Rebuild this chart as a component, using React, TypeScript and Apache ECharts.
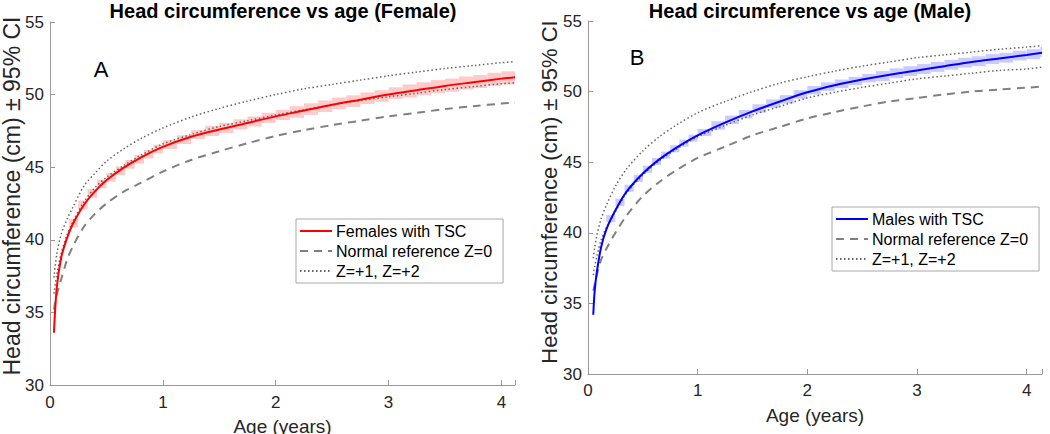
import React, { useEffect, useRef } from "react";
import * as echarts from "echarts";

// ---------- Female panel (A) ----------
const femaleAges = [0.035, 0.06, 0.1, 0.15, 0.2, 0.3, 0.4, 0.5, 0.65, 0.8, 1.0, 1.25, 1.5, 1.75, 2.0, 2.25, 2.5, 2.75, 3.0, 3.25, 3.5, 3.75, 4.0, 4.12];
const femaleTSC = [33.6, 36.7, 38.8, 40.1, 41.05, 42.4, 43.35, 44.1, 44.95, 45.65, 46.4, 47.1, 47.6, 48.05, 48.5, 48.9, 49.3, 49.65, 50.0, 50.3, 50.6, 50.85, 51.1, 51.2];
const femaleZ0 = [35.2, 36.2, 37.3, 38.6, 39.5, 40.9, 41.8, 42.5, 43.3, 43.9, 44.7, 45.5, 46.1, 46.65, 47.15, 47.55, 47.9, 48.2, 48.5, 48.75, 49.0, 49.2, 49.38, 49.44];
const femaleZ1 = [36.3, 37.6, 39.1, 40.3, 41.2, 42.6, 43.6, 44.3, 45.1, 45.8, 46.6, 47.25, 47.8, 48.2, 48.6, 48.95, 49.3, 49.6, 49.85, 50.1, 50.35, 50.55, 50.75, 50.8];
const femaleZ2 = [37.4, 39.0, 40.4, 41.4, 42.2, 43.7, 44.6, 45.4, 46.25, 46.95, 47.7, 48.45, 49.05, 49.55, 50.0, 50.4, 50.7, 51.0, 51.3, 51.55, 51.8, 52.0, 52.2, 52.27];
const femaleBandEdges = [0.167, 0.25, 0.333, 0.417, 0.5, 0.583, 0.667, 0.75, 0.833, 0.917, 1.0, 1.125, 1.25, 1.375, 1.5, 1.625, 1.75, 1.875, 2.0, 2.125, 2.25, 2.375, 2.5, 2.625, 2.75, 2.875, 3.0, 3.125, 3.25, 3.375, 3.5, 3.625, 3.75, 3.875, 4.0, 4.125];
const femaleBandLow = [40.85, 42.1, 42.9, 43.55, 44.0, 44.45, 44.9, 45.25, 45.6, 45.95, 46.25, 46.6, 46.95, 47.15, 47.35, 47.6, 47.8, 48.05, 48.25, 48.4, 48.6, 48.8, 49.0, 49.15, 49.35, 49.5, 49.7, 49.8, 49.95, 50.1, 50.2, 50.35, 50.45, 50.6, 50.7];
const femaleBandHigh = [41.45, 42.7, 43.5, 44.15, 44.6, 45.05, 45.5, 45.85, 46.2, 46.55, 46.85, 47.2, 47.55, 47.85, 48.05, 48.3, 48.5, 48.75, 48.95, 49.2, 49.4, 49.6, 49.8, 49.95, 50.15, 50.3, 50.5, 50.7, 50.85, 51.0, 51.1, 51.25, 51.35, 51.5, 51.6];

// ---------- Male panel (B) ----------
const maleAges = [0.048, 0.06, 0.08, 0.12, 0.17, 0.25, 0.35, 0.5, 0.65, 0.8, 1.0, 1.25, 1.5, 1.75, 2.0, 2.25, 2.5, 2.75, 3.0, 3.25, 3.5, 3.75, 4.0, 4.14];
const maleTSC = [34.2, 35.8, 37.2, 39.0, 40.3, 41.6, 42.9, 44.2, 45.2, 46.0, 46.9, 47.8, 48.6, 49.3, 49.95, 50.45, 50.85, 51.2, 51.5, 51.8, 52.1, 52.35, 52.6, 52.75];
const maleZ0 = [35.9, 36.3, 37.0, 38.1, 38.9, 40.0, 41.2, 42.6, 43.6, 44.4, 45.3, 46.1, 46.9, 47.5, 48.1, 48.55, 48.95, 49.3, 49.55, 49.8, 50.0, 50.15, 50.28, 50.35];
const maleZ1 = [37.0, 37.6, 38.3, 39.5, 40.4, 41.5, 42.8, 44.1, 45.1, 45.9, 46.8, 47.6, 48.35, 48.95, 49.55, 49.95, 50.3, 50.6, 50.9, 51.1, 51.3, 51.5, 51.6, 51.73];
const maleZ2 = [38.2, 38.9, 39.8, 41.0, 42.0, 43.3, 44.5, 45.8, 46.8, 47.6, 48.5, 49.3, 50.0, 50.6, 51.05, 51.45, 51.8, 52.1, 52.4, 52.6, 52.8, 53.0, 53.15, 53.25];
const maleBandEdges = [0.167, 0.25, 0.333, 0.417, 0.5, 0.583, 0.667, 0.75, 0.833, 0.917, 1.0, 1.125, 1.25, 1.375, 1.5, 1.625, 1.75, 1.875, 2.0, 2.125, 2.25, 2.375, 2.5, 2.625, 2.75, 2.875, 3.0, 3.125, 3.25, 3.375, 3.5, 3.625, 3.75, 3.875, 4.0, 4.125, 4.25];
const maleBandLow = [40.75, 41.9, 42.9, 43.6, 44.25, 44.8, 45.25, 45.7, 46.1, 46.45, 46.85, 47.3, 47.7, 48.1, 48.5, 48.85, 49.15, 49.5, 49.8, 50.05, 50.25, 50.45, 50.65, 50.75, 50.95, 51.1, 51.25, 51.4, 51.55, 51.7, 51.8, 51.95, 52.05, 52.2, 52.3, 52.45];
const maleBandHigh = [41.25, 42.4, 43.4, 44.1, 44.75, 45.3, 45.75, 46.2, 46.6, 46.95, 47.35, 47.9, 48.3, 48.7, 49.1, 49.45, 49.75, 50.1, 50.4, 50.65, 50.85, 51.05, 51.25, 51.45, 51.65, 51.8, 51.95, 52.1, 52.25, 52.4, 52.5, 52.65, 52.75, 52.9, 53.0, 53.15];

const xTicks = ["0", "1", "2", "3", "4"];
const FONT = "'Liberation Sans', Arial, Helvetica, sans-serif";
const Y_NAME = "Head circumference (cm) \u00b1 95% CI";

function pairs(xs: number[], ys: number[]) {
  return xs.map((x, i) => [x, ys[i]]);
}
function bandData(edges: number[], lo: number[], hi: number[]) {
  return lo.map((l, i) => [edges[i], edges[i + 1], l, hi[i]]);
}

function bandSeries(idx: number, data: number[][], color: string) {
  return {
    type: "custom",
    xAxisIndex: idx,
    yAxisIndex: idx,
    z: 1,
    silent: true,
    encode: { x: [0, 1], y: [2, 3] },
    data,
    renderItem: (params: any, api: any) => {
      const p0 = api.coord([api.value(0), api.value(3)]);
      const p1 = api.coord([api.value(1), api.value(2)]);
      const cs = params.coordSys;
      const shape = echarts.graphic.clipRectByRect(
        { x: p0[0], y: p0[1], width: p1[0] - p0[0], height: p1[1] - p0[1] },
        { x: cs.x, y: cs.y, width: cs.width, height: cs.height }
      );
      if (!shape) return null;
      return { type: "rect", shape, style: { fill: color } };
    },
  };
}

function lineSeries(idx: number, name: string, data: number[][], color: string, width: number, type: any, z: number) {
  return {
    type: "line",
    name,
    xAxisIndex: idx,
    yAxisIndex: idx,
    data,
    symbol: "none",
    smooth: 0.3,
    z,
    lineStyle: { color, width, type, cap: "butt" },
    itemStyle: { color },
  };
}

function xAxis(idx: number, max: number, nameGap: number, margin: number) {
  return {
    type: "value",
    gridIndex: idx,
    min: 0,
    max,
    interval: 1,
    name: "Age (years)",
    nameLocation: "middle",
    nameGap,
    nameTextStyle: { fontSize: 19, color: "#262626", fontFamily: FONT },
    axisLine: { show: true, lineStyle: { color: "#9a9a9a", width: 1 } },
    axisTick: { show: true, inside: true, length: 5, lineStyle: { color: "#9a9a9a" } },
    splitLine: { show: false },
    axisLabel: {
      fontSize: 17,
      color: "#262626",
      fontFamily: FONT,
      margin,
      formatter: (v: number) => (xTicks.includes(String(v)) ? String(v) : ""),
    },
  };
}

function yAxis(idx: number) {
  return {
    type: "value",
    gridIndex: idx,
    min: 30,
    max: 55,
    interval: 5,
    axisLine: { show: true, lineStyle: { color: "#9a9a9a", width: 1 } },
    axisTick: { show: true, inside: true, length: 5, lineStyle: { color: "#9a9a9a" } },
    splitLine: { show: false },
    axisLabel: { fontSize: 17, color: "#262626", fontFamily: FONT, margin: 6 },
  };
}

function legend(names: string[], left: number, top: number) {
  return {
    data: names,
    orient: "vertical",
    left,
    top,
    itemWidth: 32,
    itemHeight: 14,
    itemGap: 4,
    padding: [4, 11, 4, 3],
    borderColor: "#a8a8a8",
    borderWidth: 1,
    backgroundColor: "#ffffff",
    selectedMode: false,
    itemStyle: { opacity: 0 },
    textStyle: { fontSize: 16, color: "#000", fontFamily: FONT, padding: [0, 0, 0, -1] },
  };
}

function text(t: string, x: number, y: number, font: string, fill = "#000", rotation = 0) {
  return {
    type: "text",
    x,
    y,
    rotation,
    style: { text: t, x: 0, y: 0, textAlign: "center", textVerticalAlign: "middle", font, fill },
  };
}

export default function App() {
  const ref = useRef<HTMLDivElement>(null);
  useEffect(() => {
    if (!ref.current) return;
    const chart = echarts.init(ref.current, null, { renderer: "svg" });
    const dotted = [1.5, 2.5];
    const dashed = [8, 6];
    chart.setOption({
      animation: false,
      backgroundColor: "#ffffff",
      grid: [
        { left: 50, top: 22, width: 465, height: 363, outerBoundsMode: "none", containLabel: false },
        { left: 588, top: 21, width: 454, height: 353, outerBoundsMode: "none", containLabel: false },
      ],
      xAxis: [xAxis(0, 4.12, 32, 9), xAxis(1, 4.14, 32, 7.5)],
      yAxis: [yAxis(0), yAxis(1)],
      legend: [
        legend(["Females with TSC", "Normal reference Z=0", "Z=+1, Z=+2"], 296, 219),
        legend(["Males with TSC", "Normal reference Z=0", "Z=+1, Z=+2"], 832, 207),
      ],
      graphic: [
        text("Head circumference vs age (Female)", 283, 11, `bold 20px ${FONT}`),
        text("Head circumference vs age (Male)", 810, 11, `bold 20px ${FONT}`),
        text("A", 101, 69, `22px ${FONT}`),
        text("B", 637, 57, `22px ${FONT}`),
        text(Y_NAME, 12, 196, `23px ${FONT}`, "#262626", Math.PI / 2),
        text(Y_NAME, 549, 192, `22px ${FONT}`, "#262626", Math.PI / 2),
      ],
      series: [
        bandSeries(0, bandData(femaleBandEdges, femaleBandLow, femaleBandHigh), "#ffcaca"),
        lineSeries(0, "Normal reference Z=0", pairs(femaleAges, femaleZ0), "#808080", 2, dashed, 3),
        lineSeries(0, "Z=+1, Z=+2", pairs(femaleAges, femaleZ1), "#666666", 1.5, dotted, 3),
        lineSeries(0, "Z=+1, Z=+2", pairs(femaleAges, femaleZ2), "#666666", 1.5, dotted, 3),
        lineSeries(0, "Females with TSC", pairs(femaleAges, femaleTSC), "#ff0000", 2, "solid", 4),
        bandSeries(1, bandData(maleBandEdges, maleBandLow, maleBandHigh), "#cbcbff"),
        lineSeries(1, "Normal reference Z=0", pairs(maleAges, maleZ0), "#808080", 2, dashed, 3),
        lineSeries(1, "Z=+1, Z=+2", pairs(maleAges, maleZ1), "#666666", 1.5, dotted, 3),
        lineSeries(1, "Z=+1, Z=+2", pairs(maleAges, maleZ2), "#666666", 1.5, dotted, 3),
        lineSeries(1, "Males with TSC", pairs(maleAges, maleTSC), "#0000ff", 2, "solid", 4),
      ],
    });
    return () => chart.dispose();
  }, []);
  return <div ref={ref} style={{ position: "absolute", left: 0, top: 0, width: 1050, height: 434 }} />;
}
